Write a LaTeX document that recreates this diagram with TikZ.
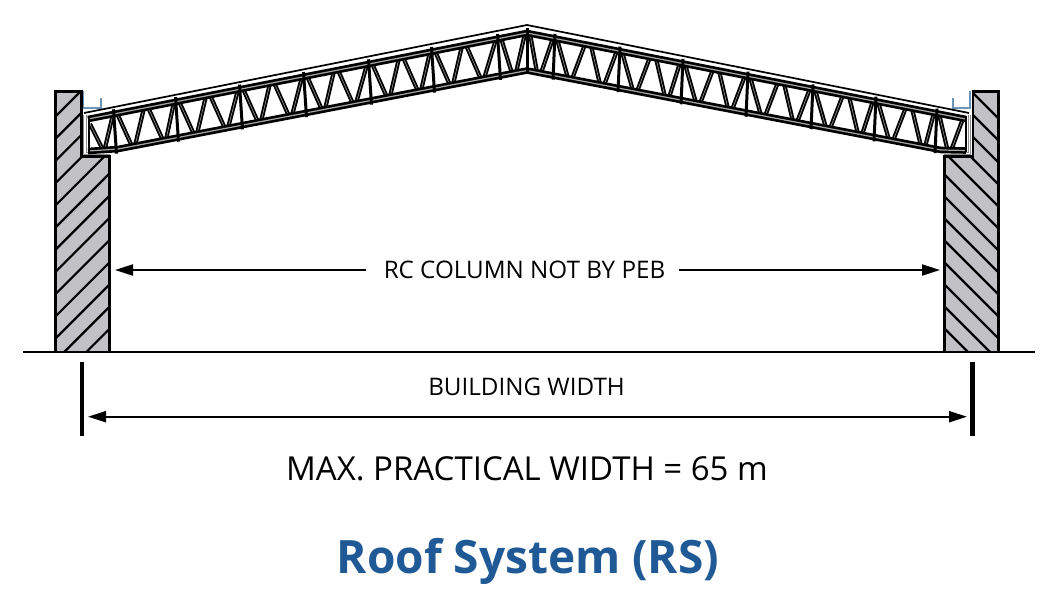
\documentclass[tikz,border=0pt]{standalone}
\usepackage{fontspec}
\setmainfont{Open Sans}
\usetikzlibrary{arrows.meta}
\definecolor{colgray}{HTML}{C2C2C6}
\definecolor{rsblue}{HTML}{1F5A96}
\definecolor{gutterblue}{HTML}{6C93B8}
\tikzset{
	column/.style={draw=black, line width=2.8pt, fill=colgray, line join=miter},
	hatch/.style={black, line width=2.2pt},
	chord/.style={black, line width=2.7pt, double=gray!70, double distance=1.2pt, line join=miter},
	webbar/.style={black, line width=1.8pt, double=gray!80, double distance=0.6pt},
	vbar/.style={black, line width=3pt},
	flash/.style={gray!90, line width=0.8pt, double=white, double distance=1.6pt},
	gutter/.style={draw=gutterblue, line width=1.2pt},
	dimarrow/.style={black, line width=2pt, -{Triangle[length=18pt,width=11pt]}},
	dimtick/.style={black, line width=4.6pt},
	label/.style={inner sep=0pt, font=\fontsize{24.2}{24}\selectfont}
}
\begin{document}
\begin{tikzpicture}[x=1pt, y=-1pt,
	declare function={topL(\x)=33+(527-\x)*0.196; botL(\x)=70.5+(527-\x)*0.192;
		topR(\x)=33+(\x-527)*0.196; botR(\x)=70.5+(\x-527)*0.192;}]
	\useasboundingbox (0,0) rectangle (1046,606);

	% columns
	\draw[column] (55.5,91.5) -- (81.5,91.5) -- (81.5,156.5) -- (109.5,156.5) -- (109.5,352) -- (55.5,352) -- cycle;
	\draw[column] (998.5,91.5) -- (973,91.5) -- (973,156.5) -- (944.5,156.5) -- (944.5,352) -- (998.5,352) -- cycle;
	\begin{scope}
		\clip (55.5,91.5) -- (81.5,91.5) -- (81.5,156.5) -- (109.5,156.5) -- (109.5,352) -- (55.5,352) -- cycle;
		\foreach \k in {0,...,12}
			\draw[hatch] ({172+22.2*\k-50},50) -- ({172+22.2*\k-400},400);
	\end{scope}
	\begin{scope}
		\clip (998.5,91.5) -- (973,91.5) -- (973,156.5) -- (944.5,156.5) -- (944.5,352) -- (998.5,352) -- cycle;
		\foreach \k in {0,...,12}
			\draw[hatch] ({880-22*\k+50},50) -- ({880-22*\k+400},400);
	\end{scope}
	\draw[column, fill=none] (55.5,91.5) -- (81.5,91.5) -- (81.5,156.5) -- (109.5,156.5) -- (109.5,352) -- (55.5,352) -- cycle;
	\draw[column, fill=none] (998.5,91.5) -- (973,91.5) -- (973,156.5) -- (944.5,156.5) -- (944.5,352) -- (998.5,352) -- cycle;

	% gutters and flashing
	\draw[gutter] (83.5,91) -- (83.5,108) -- (101,108) -- (101,98);
	\draw[gutter] (970,91) -- (970,108) -- (953,108) -- (953,98);
	\draw[flash] (85,114.5) -- (85,153.5) -- (110,153.5);
	\draw[flash] (969.5,114.5) -- (969.5,153.5) -- (944,153.5);

	% webs, left
	\foreach \v/\e in {115/177,177/241,241/305,305/370,370/433,433/499} {
		\draw[webbar] (\v+2,{topL(\v+2)}) -- (\v+17,{botL(\v+17)});
		\draw[webbar] (\v+20,{botL(\v+20)}) -- (\v+29,{topL(\v+29)});
		\draw[webbar] (\v+33,{topL(\v+33)}) -- (\v+48,{botL(\v+48)});
		\draw[webbar] (\v+51,{botL(\v+51)}) -- (\e-3,{topL(\e-3)});
	}
	\draw[webbar] (90,124) -- (102,148);
	\draw[webbar] (105,148) -- (113,{topL(113)});
	\draw[webbar] (501,{topL(501)}) -- (512,{botL(512)});
	\draw[webbar] (516,{botL(516)}) -- (525,{topL(525)});

	% webs, right
	\foreach \v/\e in {554/619,619/682,682/747,747/812,812/875,875/936} {
		\draw[webbar] (\v+3,{topR(\v+3)}) -- (\v+14,{botR(\v+14)});
		\draw[webbar] (\v+18,{botR(\v+18)}) -- (\v+31,{topR(\v+31)});
		\draw[webbar] (\v+37,{topR(\v+37)}) -- (\v+46,{botR(\v+46)});
		\draw[webbar] (\v+50,{botR(\v+50)}) -- (\e-2,{topR(\e-2)});
	}
	\draw[webbar] (530,{topR(530)}) -- (537,{botR(537)});
	\draw[webbar] (541,{botR(541)}) -- (553,{topR(553)});
	\draw[webbar] (939,{topR(939)}) -- (947,148);
	\draw[webbar] (952,148) -- (963,{topR(963)});

	% chords and roof line
	\draw[chord] (88,{topL(88)}) -- (527,33) -- (966,{topR(966)});
	\draw[chord] (88,151) -- (118,{botL(118)}) -- (527,70.5) -- (941,{botR(941)}) -- (966,150.5);
	\draw[black, line width=1.7pt, line join=miter] (84,113) -- (527,25) -- (969,113);

	% verticals
	\draw[black, line width=2pt] (88.5,117) -- (88.5,152);
	\draw[black, line width=2.6pt] (966,116) -- (966,152);
	\foreach \v in {115,177,241,305,370,433,499}
		\draw[vbar] (\v-1.5,{topL(\v)-4.5}) -- (\v+1.5,{botL(\v)+4});
	\foreach \v in {554,619,682,747,812,875,936}
		\draw[vbar] (\v+1,{topR(\v)-4.5}) -- (\v-1,{botR(\v)+4});
	\draw[vbar] (527,28) -- (527,74);

	% ground and dimensions
	\draw[black, line width=2pt] (23,352.3) -- (1035,352.3);
	\coordinate (tickLa) at (82,362);
	\coordinate (tickLb) at (82,436);
	\coordinate (tickRa) at (972.5,362);
	\coordinate (tickRb) at (972.5,436);
	\draw[dimtick] (tickLa) -- (tickLb);
	\draw[dimtick] (tickRa) -- (tickRb);

	\node[label] (rclabel) at (524.5,270) {RC COLUMN NOT BY PEB};
	\coordinate (rcleft) at (115,270);
	\coordinate (rcright) at (940,270);
	\draw[dimarrow] (366,270) -- (rcleft);
	\draw[dimarrow] (679,270) -- (rcright);

	\node[label] (widthlabel) at (526.5,387) {BUILDING WIDTH};
	\coordinate (widthleft) at (88,416.7);
	\coordinate (widthright) at (967,416.7);
	\draw[dimarrow] (527,416.7) -- (widthleft);
	\draw[dimarrow] (527,416.7) -- (widthright);

	\node[label, font=\fontsize{33}{33}\selectfont] (maxlabel) at (527,469) {MAX. PRACTICAL WIDTH = 65 m};
	\node[label, font=\bfseries\fontsize{46}{46}\selectfont, text=rsblue] (titlelabel) at (528,561) {Roof System (RS)};
\end{tikzpicture}
\end{document}
